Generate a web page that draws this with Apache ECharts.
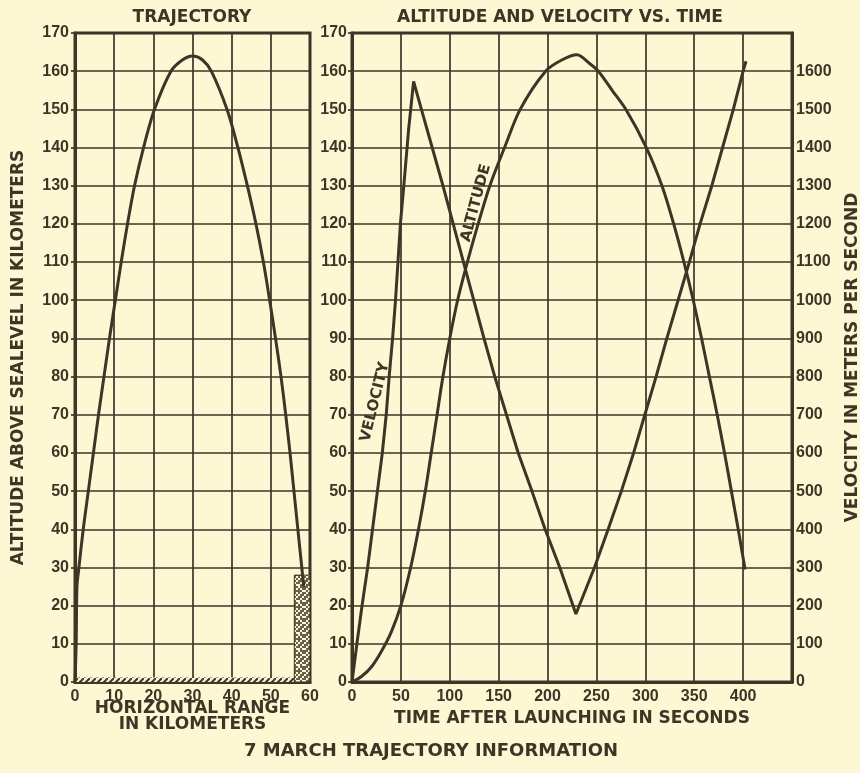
<!DOCTYPE html>
<html>
<head>
<meta charset="utf-8">
<script src="https://cdn.jsdelivr.net/npm/echarts@6/dist/echarts.min.js"></script>
<style>
  html, body { margin: 0; background: #fcf8d4; }
  #chart { width: 860px; height: 773px; }
</style>
</head>
<body>
<div id="chart"></div>
<script>
// trajectory: horizontal range (km) vs altitude (km)
const trajRange = [0, 0.3, 0.5, 1, 2.1, 3.4, 4.7, 6, 7.4, 8.8, 10.3, 11.8, 13.4, 15.2, 17.5, 20.3, 24.5, 27.5, 30, 32.5, 34.8, 38.8, 41.6, 44, 46.2, 48.1, 49.7, 51.2, 52.6, 53.8, 54.9, 55.9, 56.9, 57.9, 58.4];
const trajAltitude = [0, 10, 25, 30, 40, 50, 60, 70, 80, 90, 100, 110, 120, 130, 140, 150, 160, 163, 164, 163, 160, 150, 140, 130, 120, 110, 100, 90, 80, 70, 60, 50, 40, 30, 25];

// altitude (km) vs time (s)
const altTime = [0, 10, 20, 30, 40, 50, 60, 68, 75, 81, 87, 93, 100, 108, 118, 129, 141, 156, 172, 198, 215, 230, 243, 252, 266, 280, 301, 317, 329, 339.5, 349, 357.5, 365.5, 373.5, 381, 388, 395, 402];
const altValue = [0, 1.5, 4, 8, 13, 20, 30, 40, 50, 60, 70, 80, 90, 100, 110, 120, 130, 140, 150, 160, 163, 164.3, 162, 160, 155, 150, 140, 130, 120, 110, 100, 90, 80, 70, 60, 50, 40, 29.5];

// velocity (m/s) vs time (s)
const velTime = [0, 5, 10, 16, 21, 26, 31, 35, 38, 41.5, 44.5, 47, 49.5, 53, 58, 63, 71, 82, 93, 103.5, 114, 124.5, 135, 146, 158, 170, 184, 197.5, 212.5, 229, 248, 262, 275.5, 288, 299.5, 311, 322, 333.5, 345, 356, 368, 379, 390, 400, 403];
const velValue = [0, 100, 195, 300, 400, 500, 600, 700, 800, 900, 1000, 1100, 1200, 1300, 1450, 1573, 1500, 1400, 1300, 1200, 1100, 1000, 900, 800, 700, 600, 500, 400, 300, 178, 300, 400, 500, 600, 700, 800, 900, 1000, 1100, 1200, 1300, 1400, 1500, 1600, 1626];

const ink = '#3d3526';
const paper = '#fcf8d4';
const labelFont = 'Liberation Sans';
const nameFont = 'DejaVu Sans';

function hatchPattern() {
  const c = document.createElement('canvas');
  c.width = 6; c.height = 6;
  const g = c.getContext('2d');
  g.fillStyle = paper; g.fillRect(0, 0, 6, 6);
  g.strokeStyle = ink; g.lineWidth = 2;
  g.beginPath(); g.moveTo(0, 6); g.lineTo(6, 0); g.stroke();
  return c;
}
function specklePattern() {
  const mask = ['10110101', '01101011', '11010110', '10101101', '01110010', '11011011', '10110101', '01011110'];
  const c = document.createElement('canvas');
  c.width = 16; c.height = 16;
  const g = c.getContext('2d');
  g.fillStyle = paper; g.fillRect(0, 0, 16, 16);
  g.fillStyle = '#6a604c';
  mask.forEach((row, j) => {
    for (let i = 0; i < row.length; i++) if (row[i] === '1') g.fillRect(i * 2, j * 2, 2, 2);
  });
  return c;
}

const zip = (xs, ys) => xs.map((x, i) => [x, ys[i]]);

const axisText = { color: ink, fontFamily: labelFont, fontSize: 16, fontWeight: 'bold' };
const nameText = { color: ink, fontFamily: nameFont, fontSize: 17, fontWeight: 'bold' };
const gridLine = { lineStyle: { color: ink, width: 1.7 } };
const frameLine = { lineStyle: { color: ink, width: 3 } };
const sideTick = { show: true, length: 4, lineStyle: { color: ink, width: 1.7 } };

const myChart = echarts.init(document.getElementById('chart'));

const option = {
  backgroundColor: paper,
  animation: false,
  grid: [
    { left: 75, right: 550, top: 33, bottom: 91, outerBoundsMode: 'none', show: true, borderColor: ink, borderWidth: 3, backgroundColor: 'transparent' },
    { left: 352, right: 68, top: 33, bottom: 91, outerBoundsMode: 'none', show: true, borderColor: ink, borderWidth: 3, backgroundColor: 'transparent' }
  ],
  xAxis: [
    {
      gridIndex: 0, type: 'value', min: 0, max: 60, interval: 10,
      axisLine: frameLine, axisTick: { show: false }, splitLine: gridLine,
      axisLabel: Object.assign({ margin: 7 }, axisText),
      name: 'HORIZONTAL RANGE\nIN KILOMETERS', nameLocation: 'middle', nameGap: 19, nameMoveOverlap: false,
      nameTextStyle: Object.assign({ lineHeight: 16 }, nameText)
    },
    {
      gridIndex: 1, type: 'value', min: 0, max: 450, interval: 50,
      axisLine: frameLine, axisTick: { show: false }, splitLine: gridLine,
      axisLabel: Object.assign({ margin: 7, formatter: v => (v === 450 ? '' : v) }, axisText),
      name: 'TIME AFTER LAUNCHING IN SECONDS', nameLocation: 'middle', nameGap: 28,
      nameTextStyle: nameText
    }
  ],
  yAxis: [
    {
      gridIndex: 0, type: 'value', min: 0, max: 170, interval: 10,
      axisLine: frameLine, axisTick: sideTick, splitLine: gridLine,
      axisLabel: Object.assign({ margin: 6 }, axisText),
      name: 'ALTITUDE ABOVE SEALEVEL IN KILOMETERS', nameLocation: 'middle', nameGap: 48, nameRotate: 90,
      nameTextStyle: nameText
    },
    {
      gridIndex: 1, type: 'value', min: 0, max: 170, interval: 10, position: 'left',
      axisLine: frameLine, axisTick: sideTick, splitLine: gridLine,
      axisLabel: Object.assign({ margin: 5 }, axisText)
    },
    {
      gridIndex: 1, type: 'value', min: 0, max: 1700, interval: 100, position: 'right',
      axisLine: frameLine, axisTick: { show: false }, splitLine: { show: false },
      axisLabel: Object.assign({ margin: 4, formatter: v => (v === 1700 ? '' : v) }, axisText),
      name: 'VELOCITY IN METERS PER SECOND', nameLocation: 'middle', nameGap: 52, nameRotate: 90,
      nameTextStyle: nameText
    }
  ],
  graphic: [
    { type: 'text', x: 192, y: 18, z: 10, style: { text: 'TRAJECTORY', fill: ink, font: 'bold 17px "DejaVu Sans"', textAlign: 'center', textVerticalAlign: 'middle' } },
    { type: 'text', x: 560, y: 18, z: 10, style: { text: 'ALTITUDE AND VELOCITY VS. TIME', fill: ink, font: 'bold 17px "DejaVu Sans"', textAlign: 'center', textVerticalAlign: 'middle' } },
    { type: 'text', x: 431, y: 751, z: 10, style: { text: '7 MARCH TRAJECTORY INFORMATION', fill: ink, font: 'bold 18px "DejaVu Sans"', textAlign: 'center', textVerticalAlign: 'middle' } },
    { type: 'text', x: 375, y: 402, rotation: Math.PI * 76 / 180, z: 0,
      style: { text: 'VELOCITY', fill: ink, font: 'bold 15px "DejaVu Sans"', textAlign: 'center', textVerticalAlign: 'middle',
        backgroundColor: paper, padding: [1, 4] } },
    { type: 'text', x: 476, y: 203, rotation: Math.PI * 75 / 180, z: 0,
      style: { text: 'ALTITUDE', fill: ink, font: 'bold 15px "DejaVu Sans"', textAlign: 'center', textVerticalAlign: 'middle',
        backgroundColor: paper, padding: [1, 4] } }
  ],
  series: [
    {
      name: 'Trajectory', type: 'line', xAxisIndex: 0, yAxisIndex: 0,
      data: zip(trajRange, trajAltitude), showSymbol: false, smooth: 0.3, z: 5,
      lineStyle: { color: ink, width: 3 },
      markArea: {
        silent: true,
        data: [
          [{ coord: [0, 0], itemStyle: { color: { image: hatchPattern(), repeat: 'repeat' } } }, { coord: [60, 1.2] }],
          [{ coord: [56, 0], itemStyle: { color: { image: specklePattern(), repeat: 'repeat' }, borderColor: ink, borderWidth: 1 } }, { coord: [60, 28] }]
        ]
      }
    },
    {
      name: 'Altitude', type: 'line', xAxisIndex: 1, yAxisIndex: 1,
      data: zip(altTime, altValue), showSymbol: false, smooth: 0.3, z: 5,
      lineStyle: { color: ink, width: 3 }
    },
    {
      name: 'Velocity', type: 'line', xAxisIndex: 1, yAxisIndex: 2,
      data: zip(velTime, velValue), showSymbol: false, smooth: false, z: 5,
      lineStyle: { color: ink, width: 3 }
    }
  ]
};

myChart.setOption(option);
</script>
</body>
</html>
